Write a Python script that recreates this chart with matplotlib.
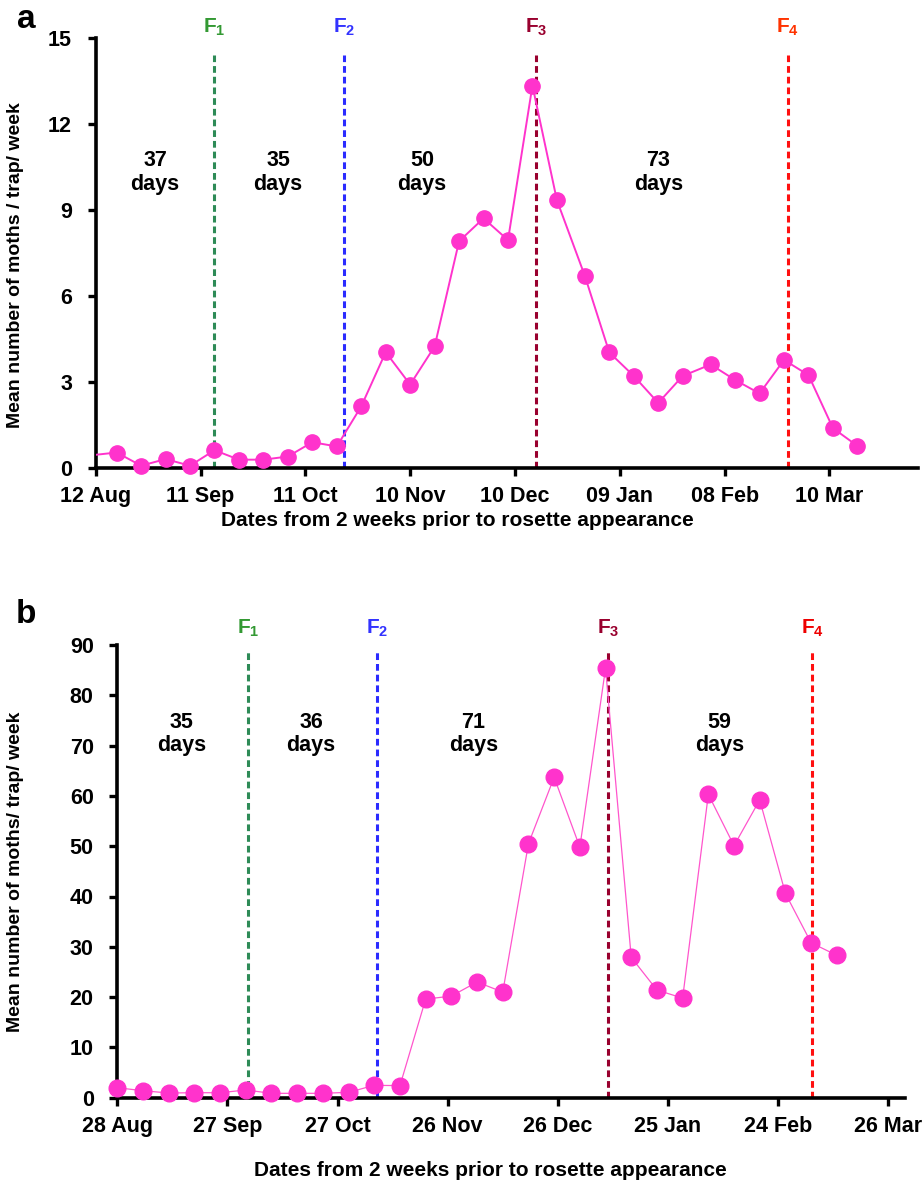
import matplotlib
matplotlib.use('Agg')
import matplotlib.pyplot as plt
from matplotlib import font_manager

names = {f.name for f in font_manager.fontManager.ttflist}
NARROW = 'Liberation Sans'
for cand in ['Liberation Sans Narrow', 'Arial Narrow', 'DejaVu Sans Condensed']:
    if cand in names:
        NARROW = cand
        break

# ---- data: panel a (days counted from 12 Aug) ----
ticks_a = ['12 Aug', '11 Sep', '11 Oct', '10 Nov', '10 Dec', '09 Jan', '08 Feb', '10 Mar']
days_a = [0, 6, 13, 20, 27, 34, 41, 48, 55, 62, 69, 76, 83, 90, 97, 104, 111, 118,
          125, 132, 140, 147, 154, 161, 168, 176, 183, 190, 197, 204, 211, 218]
moths_a = [0.45, 0.53, 0.07, 0.30, 0.07, 0.61, 0.28, 0.28, 0.39, 0.89, 0.74, 2.14,
           4.03, 2.90, 4.23, 7.90, 8.70, 7.94, 13.33, 9.33, 6.69, 4.02, 3.20, 2.26,
           3.20, 3.60, 3.06, 2.59, 3.76, 3.23, 1.38, 0.76]
flush_a = [33.8, 71, 126, 198]
gaps_a = ['37', '35', '50', '73']

# ---- data: panel b (days counted from 28 Aug) ----
ticks_b = ['28 Aug', '27 Sep', '27 Oct', '26 Nov', '26 Dec', '25 Jan', '24 Feb', '26 Mar']
days_b = [0, 7, 14, 21, 28, 35, 42, 49, 56, 63, 70, 77, 84, 91, 98, 105, 112, 119,
          126, 133, 140, 147, 154, 161, 168, 175, 182, 189, 196]
moths_b = [1.98, 1.39, 0.93, 0.99, 0.99, 1.53, 0.87, 0.87, 0.87, 1.07, 2.46, 2.40,
           19.6, 20.2, 23.0, 21.0, 50.5, 63.7, 49.8, 85.4, 27.9, 21.4, 19.8, 60.3,
           50.1, 59.2, 40.6, 30.8, 28.3]
flush_b = [35.6, 70.7, 133.8, 189.3]
gaps_b = ['35', '36', '71', '59']

line_cols = ['#2E8B57', '#2B2BFF', '#99002E', '#FF1010']
lab_cols_a = ['#339933', '#3333FF', '#99002E', '#FF3300']
lab_cols_b = ['#339933', '#3333FF', '#99002E', '#EE0000']

fig = plt.figure(figsize=(9.23, 11.87), dpi=100)
W, H = 923, 1187


def panel(rect, days, vals, ticks, flush, gaps, gap_x, gap_y, lab_cols, ylim, ystep,
          xmax, f_top, f_lab_y, lw, ms, lcol, ylabel, ylab_xy, letter, letter_y, xlab_x, xlab_y,
          skip_first):
    l, b, r, t = rect
    ax = fig.add_axes([l / W, 1 - b / H, (r - l) / W, (b - t) / H])
    ax.plot(days, vals, color=lcol, lw=lw, zorder=3)
    mk = list(range(1, len(days))) if skip_first else None
    ax.plot(days, vals, ls='none', marker='o', ms=ms, color='#FF33CC', mec='#FF33CC',
            markevery=mk, zorder=4, clip_on=False)
    for i, fx in enumerate(flush):
        ax.plot([fx, fx], [0, f_top], color=line_cols[i], lw=2.2, ls=(0, (2.2, 1.3)), zorder=2,
                clip_on=False)
        ax.text(fx, f_lab_y, 'F$_\\mathregular{%d}$' % (i + 1), color=lab_cols[i], ha='center',
                va='center', fontsize=15, fontweight='bold', family=NARROW)
    for g, gx in zip(gaps, gap_x):
        ax.text(gx, gap_y, g + '\ndays', ha='center', va='center', fontsize=15.5,
                fontweight='bold', family=NARROW, linespacing=1.15)
    ax.set_xlim(0, xmax)
    ax.set_ylim(*ylim)
    ax.set_xticks(range(0, 211, 30))
    ax.set_xticklabels(ticks)
    ax.set_yticks(range(0, int(ylim[1]) + 1, ystep))
    for s in ['top', 'right']:
        ax.spines[s].set_visible(False)
    for s in ['left', 'bottom']:
        ax.spines[s].set_linewidth(2.6)
    ax.tick_params(width=2.4, length=6, labelsize=15.5)
    ax.tick_params(axis='x', pad=7)
    ax.tick_params(axis='y', pad=11)
    for lab in ax.get_xticklabels() + ax.get_yticklabels():
        lab.set_family(NARROW)
        lab.set_fontweight('bold')
    ax.set_ylabel(ylabel, fontsize=14, fontweight='bold', family='Liberation Sans')
    ax.yaxis.set_label_coords(*ylab_xy)
    fig.text(xlab_x / W, 1 - xlab_y / H, 'Dates from 2 weeks prior to rosette appearance',
             ha='center', va='center', fontsize=15, fontweight='bold', family=NARROW)
    fig.text(26 / W, 1 - letter_y / H, letter, ha='center', va='center', fontsize=24,
             fontweight='bold', family='Liberation Sans')
    return ax


panel((95.7, 467.7, 918, 37.7), days_a, moths_a, ticks_a, flush_a, gaps_a,
      [17, 52.2, 93.4, 161], 10.3, lab_cols_a, (0, 15), 3, (918 - 95.7) / 3.494,
      14.4, 15.35, 1.4, 11, '#FF33CC', 'Mean number of moths / trap/ week',
      (-0.087, 0.47), 'a', 20, 457, 521, True)

panel((117.3, 1097.7, 905, 645), days_b, moths_b, ticks_b, flush_b, gaps_b,
      [17.5, 52.8, 97, 164], 72.3, lab_cols_b, (0, 90), 10, (905 - 117.3) / 3.671,
      88.6, 93.3, 0.9, 12, '#FF55CC', 'Mean number of moths/ trap/ week',
      (-0.118, 0.5), 'b', 615, 490, 1170, False)

fig.savefig('out.png', dpi=100)
